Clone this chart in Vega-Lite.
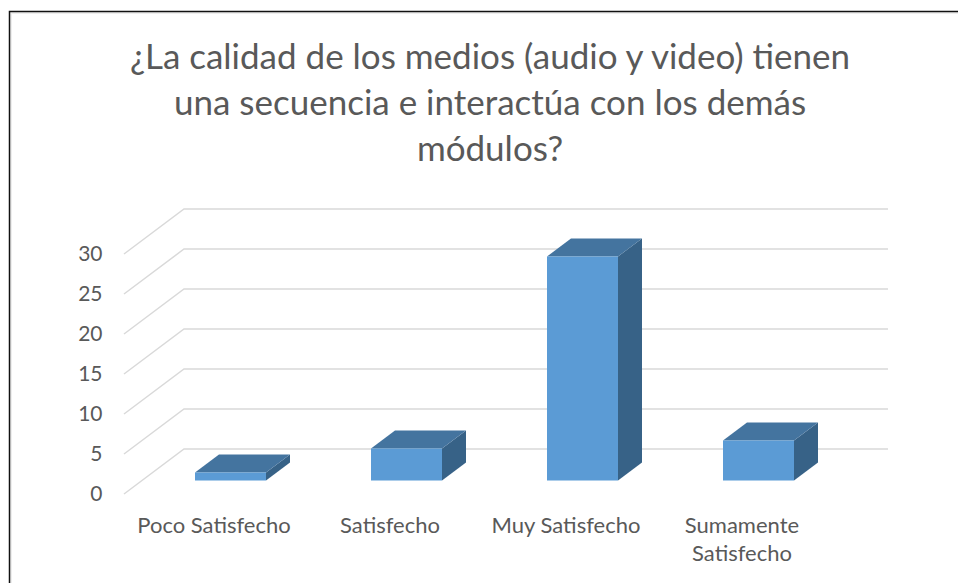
{
"$schema":"https://vega.github.io/schema/vega-lite/v6.json",
"width":704,"height":240,
"autosize":{"type":"none"},
"padding":{"left":126,"top":254,"right":128,"bottom":89},
"background":"white",
"title":{"text":["¿La calidad de los medios (audio y video) tienen","una secuencia e interactúa con los demás","módulos?"],"font":"Lato","fontSize":35,"fontWeight":"normal","color":"#595959","lineHeight":46,"anchor":"middle","dx":12,"offset":-159},
"config":{"view":{"stroke":null}},
"datasets":{
"bars":[{"categoria":"Poco Satisfecho","valor":1},{"categoria":"Satisfecho","valor":4},{"categoria":"Muy Satisfecho","valor":28},{"categoria":"Sumamente Satisfecho","valor":5}],
"ticks":[{"t":0},{"t":5},{"t":10},{"t":15},{"t":20},{"t":25},{"t":30}]
},
"layer":[
{"data":{"name":"ticks"},
 "mark":{"type":"point","filled":false,"size":4,"stroke":"#d9d9d9","strokeWidth":1.5,"opacity":1,"shape":"M-2,0L58,-45L762,-45","clip":false},
 "encoding":{
  "x":{"datum":"Poco Satisfecho","type":"nominal","bandPosition":0,"scale":{"domain":["Poco Satisfecho","Satisfecho","Muy Satisfecho","Sumamente Satisfecho"],"type":"band","paddingInner":0,"paddingOuter":0},
   "axis":{"title":null,"domain":false,"ticks":false,"labelAngle":0,"labelAlign":"center","labelPadding":31,"labelFont":"Lato","labelFontSize":22,"labelColor":"#595959","labelLineHeight":28,"labelLimit":300,"labelBaseline":"middle","labelOverlap":false,"labelExpr":"datum.label == 'Sumamente Satisfecho' ? ['Sumamente','Satisfecho'] : datum.label"}},
  "y":{"field":"t","type":"quantitative","scale":{"domain":[0,30],"nice":false},"axis":{"title":null,"domain":false,"ticks":false,"grid":false,"values":[0,5,10,15,20,25,30],"tickCount":7,"labelOverlap":false,"labelPadding":24,"labelOffset":0,"labelFont":"Lato","labelFontSize":21,"labelColor":"#595959"}}
 }},
{"data":{"values":[{"t":30}]},
 "mark":{"type":"point","filled":false,"size":4,"stroke":"#eeeeee","strokeWidth":2,"opacity":1,"shape":"M-115,329L-115,-241L832,-241"},
 "encoding":{
  "x":{"datum":"Poco Satisfecho","type":"nominal","bandPosition":0},
  "y":{"field":"t","type":"quantitative"}
 }},
{"data":{"values":[{"t":30}]},
 "mark":{"type":"point","filled":false,"size":4,"stroke":"#111111","strokeWidth":1.5,"opacity":1,"shape":"M-116.5,329L-116.5,-242.5L832,-242.5"},
 "encoding":{
  "x":{"datum":"Poco Satisfecho","type":"nominal","bandPosition":0},
  "y":{"field":"t","type":"quantitative"}
 }},
{"data":{"name":"bars"},
 "mark":{"type":"point","filled":true,"size":4,"opacity":1,"color":"#376287","xOffset":16.5,"yOffset":-13.5},
 "encoding":{
  "x":{"field":"categoria","type":"nominal"},
  "y":{"field":"valor","type":"quantitative"},
  "shape":{"field":"categoria","type":"nominal","legend":null,"scale":{"domain":["Poco Satisfecho","Satisfecho","Muy Satisfecho","Sumamente Satisfecho"],"range":["M35.5,0L59.5,-18L59.5,-10L35.5,8Z","M35.5,0L59.5,-18L59.5,14L35.5,32Z","M35.5,0L59.5,-18L59.5,206L35.5,224Z","M35.5,0L59.5,-18L59.5,22L35.5,40Z"]}}
 }},
{"data":{"name":"bars"},
 "mark":{"type":"point","filled":true,"size":4,"opacity":1,"color":"#44749f","xOffset":16.5,"yOffset":-13.5,"shape":"M-35.5,0L35.5,0L59.5,-18L-11.5,-18Z"},
 "encoding":{
  "x":{"field":"categoria","type":"nominal"},
  "y":{"field":"valor","type":"quantitative"}
 }},
{"data":{"name":"bars"},
 "mark":{"type":"bar","width":71,"color":"#5b9bd5","xOffset":16.5,"yOffset":-13.5},
 "encoding":{
  "x":{"field":"categoria","type":"nominal"},
  "y":{"field":"valor","type":"quantitative"}
 }}
]
}
